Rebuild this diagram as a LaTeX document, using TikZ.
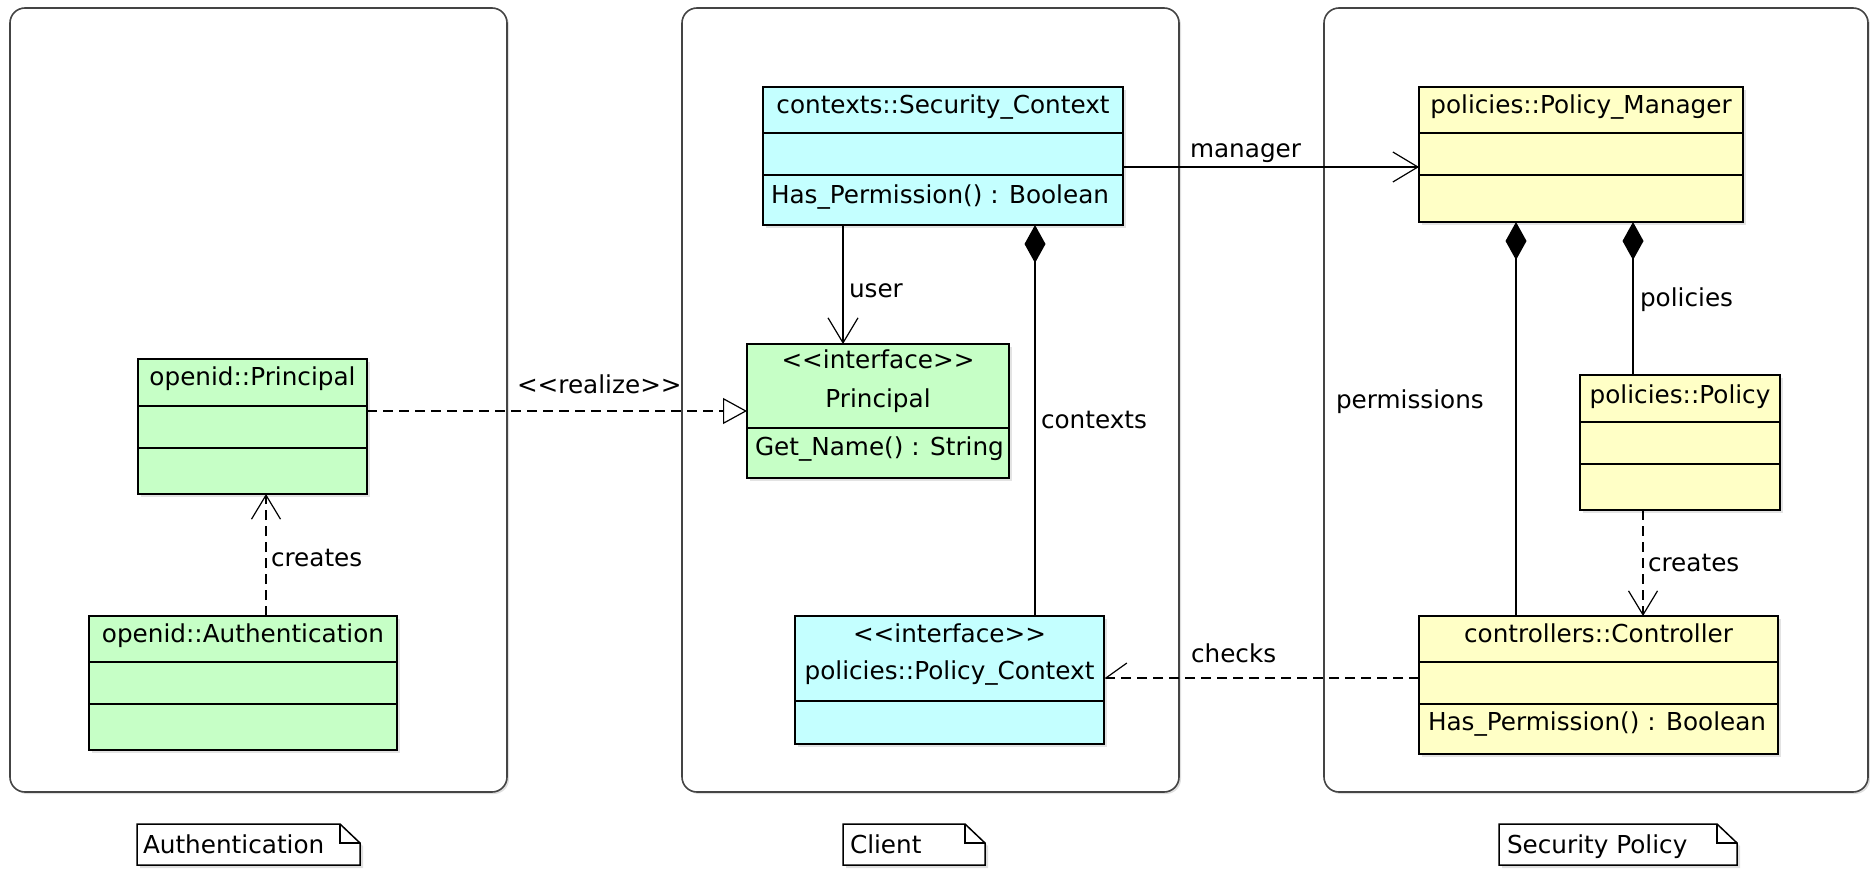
\documentclass[tikz,border=0pt]{standalone}
\usepackage{fontspec}
\setmainfont{DejaVu Sans}
\usetikzlibrary{arrows.meta,calc,shadows}

\definecolor{clscyan}{HTML}{C4FFFF}
\definecolor{clsgreen}{HTML}{C6FFC6}
\definecolor{clsyellow}{HTML}{FFFFC6}
\definecolor{panelline}{HTML}{444444}

% stereotype brackets, kept apart so they are not merged into guillemets
\newcommand{\stereo}[1]{<\kern0pt<#1>\kern0pt>}

\begin{document}
\begin{tikzpicture}[x=1pt,y=-1pt,
  every node/.style={font=\fontsize{24.7}{30}\selectfont, inner sep=0pt, outer sep=0pt},
  panel/.style={draw=panelline, line width=1.6pt, rounded corners=15pt, fill=white,
    anchor=north west, drop shadow={shadow xshift=2pt, shadow yshift=-2pt, opacity=0.25}},
  cls/.style={draw=black, line width=2pt, anchor=north west,
    drop shadow={shadow xshift=3pt, shadow yshift=-3pt, opacity=0.22}},
  divider/.style={draw=black, line width=1.8pt},
  assoc/.style={line width=1.4pt, -{Straight Barb[length=25pt, width=30pt, line width=1.2pt]}},
  dep/.style={line width=1.4pt, dash pattern=on 10pt off 6pt,
    -{Straight Barb[length=24pt, width=29pt, line width=1.2pt]}},
  realize/.style={line width=1.4pt, dash pattern=on 10pt off 6pt,
    -{Triangle[open, length=24pt, width=26pt, line width=1.2pt]}},
  comp/.style={line width=1.6pt, {Diamond[length=38pt, width=21pt]}-},
  halfdep/.style={line width=1.4pt, dash pattern=on 10pt off 6pt,
    -{Straight Barb[harpoon, swap, length=21pt, width=30pt, line width=1.2pt]}},
  lbl/.style={anchor=base west},
  notebox/.style={draw=black, line width=1.5pt, fill=white,
    drop shadow={shadow xshift=3pt, shadow yshift=-3pt, opacity=0.25}},
]
\useasboundingbox (0,0) rectangle (1870,870);

% ---------- package frames ----------
\node[panel, minimum width=497pt, minimum height=784pt] (authpanel) at (10,8) {};
\node[panel, minimum width=497pt, minimum height=784pt] (clientpanel) at (682,8) {};
\node[panel, minimum width=544pt, minimum height=784pt] (secpanel) at (1324,8) {};

% ---------- Client ----------
\node[cls, fill=clscyan, minimum width=360pt, minimum height=138pt] (sc) at (763,87) {};
\draw[divider] ([yshift=-46pt]sc.north west) -- ([yshift=-46pt]sc.north east);
\draw[divider] ([yshift=-88pt]sc.north west) -- ([yshift=-88pt]sc.north east);
\node[anchor=base] at ([yshift=-26pt]sc.north) {contexts::Security\_Context};
\node[anchor=base west] at ([xshift=8pt,yshift=-116pt]sc.north west) {Has\_Permission() : Boolean};

\node[cls, fill=clsgreen, minimum width=262pt, minimum height=134pt] (pi) at (747,344) {};
\draw[divider] ([yshift=-84pt]pi.north west) -- ([yshift=-84pt]pi.north east);
\node[anchor=base] at ([yshift=-24pt]pi.north) {\stereo{interface}};
\node[anchor=base] at ([yshift=-63pt]pi.north) {Principal};
\node[anchor=base west] at ([xshift=8pt,yshift=-111pt]pi.north west) {Get\_Name() : String};

\node[cls, fill=clscyan, minimum width=309pt, minimum height=128pt] (pc) at (795,616) {};
\draw[divider] ([yshift=-85pt]pc.north west) -- ([yshift=-85pt]pc.north east);
\node[anchor=base] at ([yshift=-26pt]pc.north) {\stereo{interface}};
\node[anchor=base] at ([yshift=-63pt]pc.north) {policies::Policy\_Context};

% ---------- Authentication ----------
\node[cls, fill=clsgreen, minimum width=229pt, minimum height=135pt] (op) at (138,359) {};
\draw[divider] ([yshift=-47pt]op.north west) -- ([yshift=-47pt]op.north east);
\draw[divider] ([yshift=-89pt]op.north west) -- ([yshift=-89pt]op.north east);
\node[anchor=base] at ([yshift=-26pt]op.north) {openid::Principal};

\node[cls, fill=clsgreen, minimum width=308pt, minimum height=134pt] (au) at (89,616) {};
\draw[divider] ([yshift=-46pt]au.north west) -- ([yshift=-46pt]au.north east);
\draw[divider] ([yshift=-88pt]au.north west) -- ([yshift=-88pt]au.north east);
\node[anchor=base] at ([yshift=-26pt]au.north) {openid::Authentication};

% ---------- Security Policy ----------
\node[cls, fill=clsyellow, minimum width=324pt, minimum height=135pt] (pm) at (1419,87) {};
\draw[divider] ([yshift=-46pt]pm.north west) -- ([yshift=-46pt]pm.north east);
\draw[divider] ([yshift=-88pt]pm.north west) -- ([yshift=-88pt]pm.north east);
\node[anchor=base] at ([yshift=-26pt]pm.north) {policies::Policy\_Manager};

\node[cls, fill=clsyellow, minimum width=200pt, minimum height=135pt] (po) at (1580,375) {};
\draw[divider] ([yshift=-47pt]po.north west) -- ([yshift=-47pt]po.north east);
\draw[divider] ([yshift=-89pt]po.north west) -- ([yshift=-89pt]po.north east);
\node[anchor=base] at ([yshift=-28pt]po.north) {policies::Policy};

\node[cls, fill=clsyellow, minimum width=359pt, minimum height=138pt] (ct) at (1419,616) {};
\draw[divider] ([yshift=-46pt]ct.north west) -- ([yshift=-46pt]ct.north east);
\draw[divider] ([yshift=-88pt]ct.north west) -- ([yshift=-88pt]ct.north east);
\node[anchor=base] at ([yshift=-26pt]ct.north) {controllers::Controller};
\node[anchor=base west] at ([xshift=9pt,yshift=-114pt]ct.north west) {Has\_Permission() : Boolean};

% ---------- connector guide positions ----------
\coordinate (my) at (0,167);   % manager
\coordinate (ux) at (843,0);   % user
\coordinate (cx) at (1035,0);  % contexts
\coordinate (ry) at (0,411);   % realize
\coordinate (ax) at (266,0);   % creates (openid)
\coordinate (px) at (1516,0);  % permissions
\coordinate (qx) at (1633,0);  % policies
\coordinate (dx) at (1643,0);  % creates (policies)
\coordinate (ky) at (0,678);   % checks

% ---------- connectors ----------
\draw[assoc] (sc.east |- my) -- (pm.west |- my);
\node[lbl] at (1190,157) {manager};

\draw[assoc] (sc.south -| ux) -- (pi.north -| ux);
\node[lbl] at (849,297) {user};

\draw[comp] (sc.south -| cx) -- (pc.north -| cx);
\node[lbl] at (1041,428) {contexts};

\draw[realize] (op.east |- ry) -- (pi.west |- ry);
\node[lbl] at (517,393) {\stereo{realize}};

\draw[dep] (au.north -| ax) -- (op.south -| ax);
\node[lbl] at (271,566) {creates};

\draw[comp] (pm.south -| px) -- (ct.north -| px);
\node[lbl] at (1336,408) {permissions};

\draw[comp] (pm.south -| qx) -- (po.north -| qx);
\node[lbl] at (1640,306) {policies};

\draw[dep] (po.south -| dx) -- (ct.north -| dx);
\node[lbl] at (1648,571) {creates};

\draw[halfdep] (ct.west |- ky) -- (pc.east |- ky);
\node[lbl] at (1191,662) {checks};

% ---------- package name notes ----------
\draw[notebox] (137,824) -- (340,824) -- (360,843) -- (360,865) -- (137,865) -- cycle;
\draw[line width=1.3pt] (340,824) -- (340,843) -- (360,843);
\node[lbl] (authnote) at (143,853) {Authentication};

\draw[notebox] (843,824) -- (965,824) -- (985,843) -- (985,865) -- (843,865) -- cycle;
\draw[line width=1.3pt] (965,824) -- (965,843) -- (985,843);
\node[lbl] (clientnote) at (850,853) {Client};

\draw[notebox] (1499,824) -- (1717,824) -- (1737,843) -- (1737,865) -- (1499,865) -- cycle;
\draw[line width=1.3pt] (1717,824) -- (1717,843) -- (1737,843);
\node[lbl] (secnote) at (1507,853) {Security Policy};
\end{tikzpicture}
\end{document}
